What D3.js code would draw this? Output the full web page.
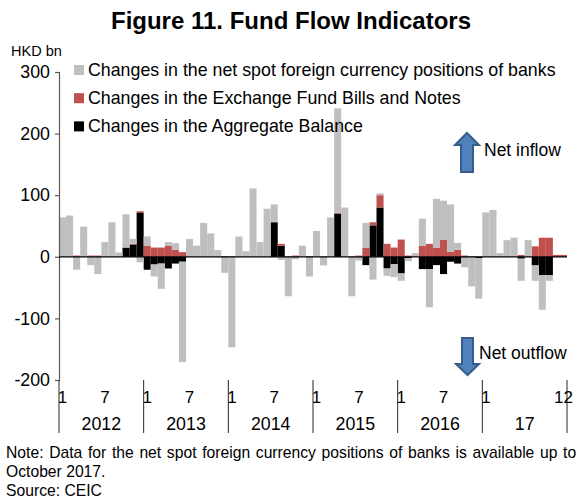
<!DOCTYPE html>
<html>
<head>
<meta charset="utf-8">
<script src="https://cdnjs.cloudflare.com/ajax/libs/d3/7.8.5/d3.min.js"></script>
<style>
  body { margin: 0; background: #fff; }
  text { font-family: "Liberation Sans", Arial, sans-serif; fill: #000; }
</style>
</head>
<body>
<svg id="chart" width="577" height="500"></svg>
<script>
var years = ["2012", "2013", "2014", "2015", "2016", "17"];
var yTicks = [300, 200, 100, 0, -100, -200];
var monthLabels = [[0, "1"], [6, "7"], [12, "1"], [18, "7"], [24, "1"], [30, "7"], [36, "1"], [42, "7"], [48, "1"], [54, "7"], [60, "1"], [71, "12"]];

// 2012-01 to 2017-12, HKD bn
var aggregateBalance = [0,0,0,0,0,0,0,0,0,15,20,72,
  -21,-12.5,-11,-19,-11,-8,0,0,0,0,0,-1,
  0,0,0,0,0,0,56,18,-1,-1,0,-1,
  0,-1,0,70,0,-1,0,-13.5,51,80,-19,-12,
  -27,-2,0,-20,-20,-13.5,-28,-8,-11,-1,0,-2,
  0,0,0,0,0,-3,0,-14,-30,-30,0,0];
var fundBills = [0,0,2,0,2,2,0,0,0,0,1,2,
  18,15,15,18,11,7.5,0,0,0,0,0,1,
  1,0,0,0,0,0,1,3,0,2,0,1,
  0,0,0,1,0,0,2,15,5,20,21,15,
  28,2,0,18,21,15,28,8,11.5,2,1,0,
  0,0,0,0,0,3,0,17,31,31,3,3];
var spotPositions = [64,67,-21,49,-13.5,-28,24,56,7,54,8,-9,
  15,-19.5,-41,6,11,-163,29,18,55,38,11,-25,
  -147,33,9,111,24,78,28,-5,-63,-3,18,-31,
  42,-13,64,170,80,-63,-6,40,-37,3,-12,-21,
  -12,-5,6,44,-62,79,63,77,11,-16,-48,-66,
  72,76,6,27,31,-36,27,-25,-56,-9,0,0];

var seriesNames = ["aggregate", "bills", "spot"];
var seriesColors = {aggregate: "#000000", bills: "#c0504d", spot: "#bfbfbf"};

var legendItems = [
  ["spot", "Changes in the net spot foreign currency positions of banks"],
  ["bills", "Changes in the Exchange Fund Bills and Notes"],
  ["aggregate", "Changes in the Aggregate Balance"]
];

var rows = aggregateBalance.map(function(d, i) {
  return {i: i, aggregate: d, bills: fundBills[i], spot: spotPositions[i]};
});

var svg = d3.select("#chart");

var x = d3.scaleBand().domain(d3.range(rows.length)).range([59, 567]).padding(0);
var y = d3.scaleLinear().domain([-200, 300]).range([380, 72]);

svg.append("text")
  .attr("x", 291).attr("y", 29)
  .attr("text-anchor", "middle")
  .style("font-size", "24px").style("font-weight", "bold")
  .text("Figure 11. Fund Flow Indicators");

svg.append("text").attr("x", 11).attr("y", 56).style("font-size", "14.5px").text("HKD bn");

// bars, stacked like excel: positives and negatives pile up on their own side
var stack = d3.stack().keys(seriesNames).offset(d3.stackOffsetDiverging);
svg.append("g")
  .selectAll("g")
  .data(stack(rows))
  .enter().append("g")
    .attr("fill", function(d) { return seriesColors[d.key]; })
  .selectAll("rect")
  .data(function(d) { return d; })
  .enter().append("rect")
    .attr("x", function(d) { return x(d.data.i); })
    .attr("width", x.bandwidth())
    .attr("y", function(d) { return y(d[1]); })
    .attr("height", function(d) { return y(d[0]) - y(d[1]); });

// y axis
var yAxis = svg.append("g")
  .attr("transform", "translate(59,0)")
  .call(d3.axisLeft(y).tickValues(yTicks).tickSize(4).tickPadding(5).tickFormat(function(d) { return String(d); }));
yAxis.selectAll("path, line").attr("stroke", "#595959").attr("stroke-width", 1.2);
yAxis.selectAll("text").style("font-size", "17.8px").attr("font-family", null);

// zero line
svg.append("line")
  .attr("x1", 59).attr("x2", 567)
  .attr("y1", y(0)).attr("y2", y(0))
  .attr("stroke", "#000").attr("stroke-width", 1.2);

// two level category labels below the plot
var yearTicks = d3.range(0, 73, 12).map(function(m) { return 59 + m * x.step(); });
svg.append("g")
  .selectAll("line")
  .data(yearTicks)
  .enter().append("line")
    .attr("x1", function(d) { return d; })
    .attr("x2", function(d) { return d; })
    .attr("y1", 380).attr("y2", 433)
    .attr("stroke", "#262626").attr("stroke-width", 1);

svg.append("g")
  .selectAll("text")
  .data(monthLabels)
  .enter().append("text")
    .attr("x", function(d) { return x(d[0]) + x.bandwidth() / 2; })
    .attr("y", 403)
    .attr("text-anchor", "middle")
    .style("font-size", "17px")
    .text(function(d) { return d[1]; });

svg.append("g")
  .selectAll("text")
  .data(years)
  .enter().append("text")
    .attr("x", function(d, i) { return (yearTicks[i] + yearTicks[i + 1]) / 2; })
    .attr("y", 430)
    .attr("text-anchor", "middle")
    .style("font-size", "17.8px")
    .text(function(d) { return d; });

// legend
var legend = svg.append("g")
  .selectAll("g")
  .data(legendItems)
  .enter().append("g")
    .attr("transform", function(d, i) { return "translate(0," + (70 + i * 28.2) + ")"; });
legend.append("rect")
  .attr("x", 74).attr("y", -5).attr("width", 10).attr("height", 10)
  .attr("fill", function(d) { return seriesColors[d[0]]; });
legend.append("text")
  .attr("x", 88).attr("y", 6)
  .style("font-size", "17.8px")
  .text(function(d) { return d[1]; });

// arrows
var arrow = d3.line();
var upArrow = [[467, 133], [479, 145], [473, 145], [473, 172], [461, 172], [461, 145], [455, 145]];
var downArrow = [[467.5, 375], [456, 364], [462, 364], [462, 338], [473, 338], [473, 364], [479, 364]];
svg.selectAll("path.arrow")
  .data([upArrow, downArrow])
  .enter().append("path")
    .attr("class", "arrow")
    .attr("d", function(d) { return arrow(d) + "Z"; })
    .attr("fill", "#4f81bd")
    .attr("stroke", "#385d8a")
    .attr("stroke-width", 2);

svg.append("text").attr("x", 484).attr("y", 156).style("font-size", "17.5px").text("Net inflow");
svg.append("text").attr("x", 479).attr("y", 359).style("font-size", "17.5px").text("Net outflow");

// note
svg.append("text").attr("x", 6).attr("y", 458)
  .style("font-size", "15.7px").style("word-spacing", "1.3px")
  .text("Note: Data for the net spot foreign currency positions of banks is available up to");
svg.append("text").attr("x", 6).attr("y", 477).style("font-size", "15.7px").text("October 2017.");
svg.append("text").attr("x", 6).attr("y", 496).style("font-size", "15.7px").text("Source: CEIC");
</script>
</body>
</html>
